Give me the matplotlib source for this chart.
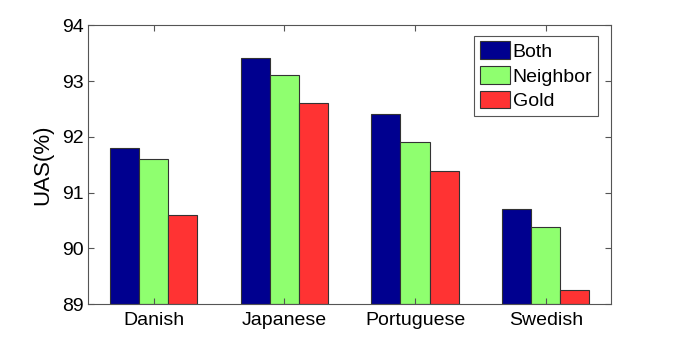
import numpy as np
import matplotlib
matplotlib.use("Agg")
import matplotlib.pyplot as plt

plt.rcParams["font.family"] = ["Liberation Sans", "DejaVu Sans"]

# values
languages = ["Danish", "Japanese", "Portuguese", "Swedish"]
both = [91.80, 93.42, 92.41, 90.71]
neighbor = [91.61, 93.10, 91.91, 90.39]
gold = [90.59, 92.60, 91.39, 89.26]
series_names = ["Both", "Neighbor", "Gold"]
colors = ["#00008F", "#8FFF6F", "#FF3333"]

fig = plt.figure(figsize=(6.76, 3.42), dpi=100)
ax = fig.add_axes([0.1306, 0.111, 0.7734, 0.815])

x = np.arange(1, len(languages) + 1)
w = 0.223
for i, (vals, name, c) in enumerate(zip([both, neighbor, gold], series_names, colors)):
    ax.bar(x + (i - 1) * w, np.array(vals) - 89, width=w, bottom=89, color=c,
           edgecolor="#333333", linewidth=0.8, label=name)

ax.set_xlim(0.5, 4.5)
ax.set_ylim(89, 94)
ax.set_xticks(x)
ax.set_xticklabels(languages)
ax.set_yticks(range(89, 95))
ax.tick_params(direction="in", top=True, right=True, labelsize=14,
               length=4, color="#555555", width=0.8)
ax.tick_params(axis="x", pad=6)
for s in ax.spines.values():
    s.set_color("#555555")
    s.set_linewidth(0.8)
ax.set_ylabel("UAS(%)", fontsize=16, labelpad=6)

leg = ax.legend(loc="upper right", bbox_to_anchor=(0.975, 0.963), fontsize=14,
                fancybox=False, framealpha=1, edgecolor="#555555",
                handlelength=1.55, handleheight=1.0, handletextpad=0.15,
                labelspacing=0.28, borderpad=0.3, borderaxespad=0)
leg.get_frame().set_linewidth(0.8)

fig.savefig("out.png", dpi=100)
